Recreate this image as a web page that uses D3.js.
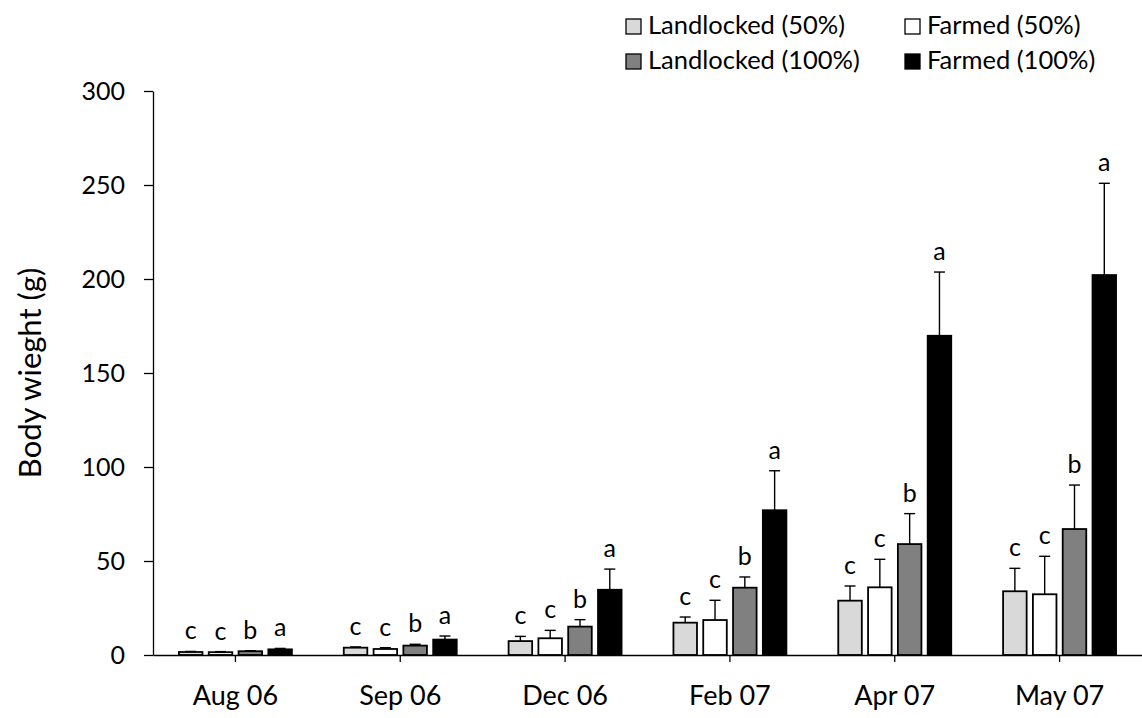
<!DOCTYPE html>
<html>
<head>
<meta charset="utf-8">
<script src="https://cdn.jsdelivr.net/npm/d3@7"></script>
<style>
  html, body { margin: 0; padding: 0; background: #fff; }
  svg { display: block; }
  text { font-family: Lato, "Open Sans", sans-serif; fill: #000; }
</style>
</head>
<body>
<svg id="chart" width="1142" height="718"></svg>
<script>
const categories = ["Aug 06", "Sep 06", "Dec 06", "Feb 07", "Apr 07", "May 07"];
const seriesNames = ["Landlocked (50%)", "Farmed (50%)", "Landlocked (100%)", "Farmed (100%)"];
const seriesColors = ["#d9d9d9", "#ffffff", "#808080", "#000000"];

const landlocked50 = [1.6, 3.9, 7.4, 17.2, 28.9, 33.9];
const farmed50     = [1.5, 3.2, 8.9, 18.6, 36.0, 32.3];
const landlocked100 = [2.0, 5.0, 15.1, 35.8, 59.0, 67.0];
const farmed100    = [3.0, 8.2, 34.7, 77.0, 169.8, 202.1];

const errL50  = [0.3, 0.4, 2.5, 3.0, 7.8, 12.2];
const errF50  = [0.3, 0.7, 4.2, 10.5, 14.9, 20.2];
const errL100 = [0.3, 0.7, 3.7, 5.7, 16.2, 23.4];
const errF100 = [0.5, 1.9, 11.0, 21.0, 33.9, 48.8];

const lettersL50  = ["c", "c", "c", "c", "c", "c"];
const lettersF50  = ["c", "c", "c", "c", "c", "c"];
const lettersL100 = ["b", "b", "b", "b", "b", "b"];
const lettersF100 = ["a", "a", "a", "a", "a", "a"];

const yTicks = [0, 50, 100, 150, 200, 250, 300];

const seriesValues = [landlocked50, farmed50, landlocked100, farmed100];
const seriesErrors = [errL50, errF50, errL100, errF100];
const seriesLetters = [lettersL50, lettersF50, lettersL100, lettersF100];

const svg = d3.select("#chart");
const mLeft = 153, mRight = 1142, mTop = 91, mBottom = 655;

const x0 = d3.scaleBand().domain(categories).range([mLeft, mRight]).paddingInner(0).paddingOuter(0);
const x1 = d3.scaleBand().domain(d3.range(4)).range([0, x0.bandwidth()]).paddingInner(0.21).paddingOuter(0.87);
const y = d3.scaleLinear().domain([0, 300]).range([mBottom, mTop]);

const data = [];
categories.forEach((c, i) => {
  seriesValues.forEach((vals, s) => {
    data.push({ cat: c, s: s, v: vals[i], e: seriesErrors[s][i], l: seriesLetters[s][i] });
  });
});

// bars
svg.append("g").selectAll("rect").data(data).join("rect")
  .attr("x", d => x0(d.cat) + x1(d.s))
  .attr("y", d => y(d.v))
  .attr("width", x1.bandwidth())
  .attr("height", d => y(0) - y(d.v))
  .attr("fill", d => seriesColors[d.s])
  .attr("stroke", "#000")
  .attr("stroke-width", 1.8);

// error bars
const eg = svg.append("g").attr("stroke", "#000").attr("stroke-width", 1.4);
data.forEach(d => {
  const cx = x0(d.cat) + x1(d.s) + x1.bandwidth() / 2;
  eg.append("line").attr("x1", cx).attr("x2", cx).attr("y1", y(d.v)).attr("y2", y(d.v + d.e));
  eg.append("line").attr("x1", cx - 5.5).attr("x2", cx + 5.5).attr("y1", y(d.v + d.e)).attr("y2", y(d.v + d.e));
});

// letters
svg.append("g").selectAll("text").data(data).join("text")
  .attr("x", d => x0(d.cat) + x1(d.s) + x1.bandwidth() / 2)
  .attr("y", d => y(d.v + d.e) - 12)
  .attr("text-anchor", "middle")
  .attr("font-size", 25)
  .text(d => d.l);

// y axis
const yAxis = d3.axisLeft(y).tickValues(yTicks).tickSize(9).tickSizeOuter(0).tickPadding(19);
const gy = svg.append("g").attr("transform", `translate(${mLeft},0)`).call(yAxis);
gy.select(".domain").attr("stroke", "#000").attr("stroke-width", 1.3);
gy.selectAll(".tick line").attr("stroke", "#000").attr("stroke-width", 1.3);
gy.selectAll(".tick text").attr("font-size", 25).attr("font-family", "Lato, 'Open Sans', sans-serif").attr("fill", "#000");

// x axis
const xAxis = d3.axisBottom(x0).tickSize(7).tickSizeOuter(0).tickPadding(24);
const gx = svg.append("g").attr("transform", `translate(0,${mBottom})`).call(xAxis);
gx.select(".domain").attr("stroke", "#000").attr("stroke-width", 1.6);
gx.selectAll(".tick line").attr("stroke", "#000").attr("stroke-width", 1.3);
gx.selectAll(".tick text").attr("font-size", 27).attr("font-family", "Lato, 'Open Sans', sans-serif").attr("fill", "#000");

// y title
svg.append("text")
  .attr("transform", `translate(41,${(mTop + mBottom) / 2}) rotate(-90)`)
  .attr("text-anchor", "middle")
  .attr("font-size", 31)
  .text("Body wieght (g)");

// legend
const legendPos = [[626, 19], [905, 19], [626, 54], [905, 54]];
const lg = svg.append("g");
seriesNames.forEach((name, s) => {
  const [lx, ly] = legendPos[s];
  lg.append("rect").attr("x", lx).attr("y", ly).attr("width", 15).attr("height", 15)
    .attr("fill", seriesColors[s]).attr("stroke", "#000").attr("stroke-width", 1.3);
  lg.append("text").attr("x", lx + 22).attr("y", ly + 15).attr("font-size", 25.5).text(name);
});
</script>
</body>
</html>
